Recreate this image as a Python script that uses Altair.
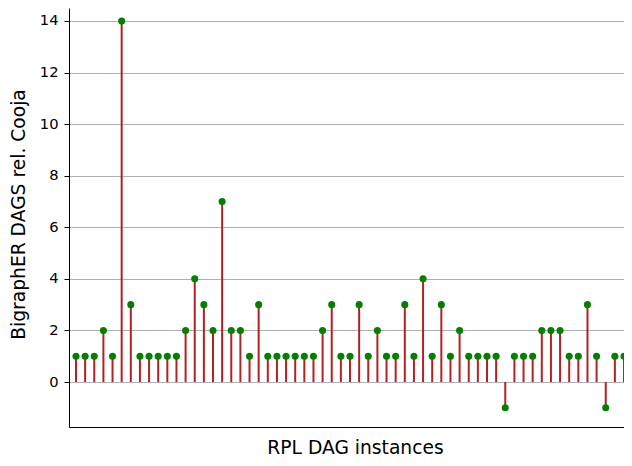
import altair as alt
import pandas as pd

values = [1, 1, 1, 2, 1, 14, 3, 1, 1, 1, 1, 1, 2, 4, 3, 2, 7, 2, 2, 1,
          3, 1, 1, 1, 1, 1, 1, 2, 3, 1, 1, 3, 1, 2, 1, 1, 3, 1, 4, 1,
          3, 1, 2, 1, 1, 1, 1, -1, 1, 1, 1, 2, 2, 2, 1, 1, 3, 1, -1, 1, 1]
instances = list(range(len(values)))
y_ticks = [0, 2, 4, 6, 8, 10, 12, 14]

df = pd.DataFrame({"instance": instances, "value": values})

W, H = 555, 419
FONT = "DejaVu Sans"

x_enc = alt.X(
    "instance:Q",
    scale=alt.Scale(domain=[-0.766, 60], nice=False, zero=False),
    axis=alt.Axis(
        title="RPL DAG instances", ticks=False, labels=False, grid=False,
        domainColor="black", domainWidth=1,
        titleFont=FONT, titleFontSize=18.7, titleFontWeight="normal",
        titleColor="black", titleX=286, titleY=11,
        titleBaseline="top", titleAlign="center",
    ),
)
y_scale = alt.Scale(domain=[-1.745, 14.504], nice=False, zero=False)
y_axis = alt.Axis(
    title="BigraphER DAGS rel. Cooja", values=y_ticks, grid=True,
    gridColor="#b0b0b0", gridWidth=1, tickColor="black", tickSize=5,
    tickWidth=1, labelFont=FONT, labelFontSize=14.7, labelPadding=6,
    labelColor="black", domainColor="black", domainWidth=1,
    titleFont=FONT, titleFontSize=18.7, titleFontWeight="normal",
    titleColor="black", titleX=-41, titleY=206,
)

base = alt.Chart(df).transform_calculate(zero="0")

stems = base.mark_rule(color="#b22222", strokeWidth=2, clip=True).encode(
    x=x_enc,
    y=alt.Y("zero:Q", scale=y_scale, axis=y_axis),
    y2="value:Q",
)
dots = base.mark_circle(color="#008000", size=50, opacity=1, clip=True).encode(
    x=x_enc,
    y=alt.Y("value:Q", scale=y_scale, axis=y_axis),
)

chart = (
    alt.layer(stems, dots)
    .properties(
        width=W, height=H,
        autosize=alt.AutoSizeParams(type="none"),
        padding={"left": 61, "top": 0, "right": 0, "bottom": 31},
    )
    .configure_view(stroke=None)
)

chart.save("out.html", embed_options={"renderer": "svg", "actions": False})
